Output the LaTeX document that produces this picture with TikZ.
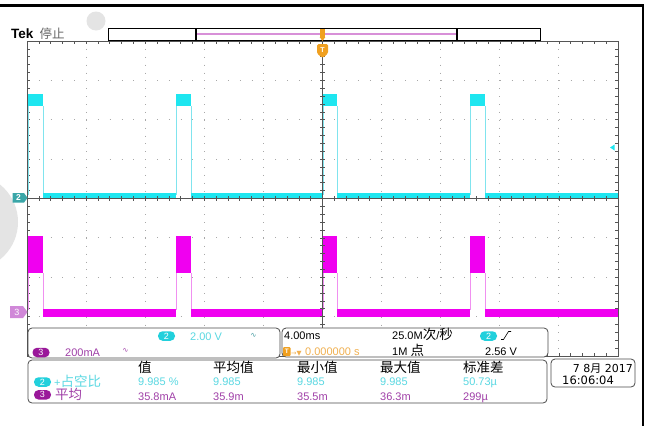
\documentclass[tikz,border=0pt]{standalone}
\usepackage{fontspec}
\usepackage{graphicx}
\setmainfont{Liberation Sans}
\newfontfamily\cjk{Noto Sans CJK SC}
\newfontfamily\djv{DejaVu Sans}
\newcommand{\zhtxt}[1]{{\cjk\fontsize{13.5}{15}\selectfont #1}}
\definecolor{cyantr}{HTML}{1EE6F0}
\definecolor{cyanedge}{HTML}{80E4EE}
\definecolor{magtr}{HTML}{F000F0}
\definecolor{magedge}{HTML}{F090F0}
\definecolor{chtwomk}{HTML}{3AA6A8}
\definecolor{chthreemk}{HTML}{D088D8}
\definecolor{gridc}{HTML}{A8A8A8}
\definecolor{axisc}{HTML}{555555}
\definecolor{txtcyan}{HTML}{5AD8E2}
\definecolor{txtpurp}{HTML}{A040A8}
\definecolor{pilltwoc}{HTML}{22D0DC}
\definecolor{pillthreec}{HTML}{9A189A}
\definecolor{trigor}{HTML}{F0A020}
\definecolor{trigtxt}{HTML}{F0B050}
\definecolor{barmag}{HTML}{D890D8}
\definecolor{wmark}{HTML}{E4E4E4}
\begin{document}
\begin{tikzpicture}[x=1pt,y=-1pt,
  lat/.style={font=\fontsize{11}{13}\selectfont, inner sep=0pt, anchor=base west},
  cj/.style={font=\cjk\fontsize{13.5}{15}\selectfont, inner sep=0pt, anchor=base west},
  pilltwo/.style={fill=pilltwoc, text=white, rounded corners=4.5pt, minimum width=17pt, minimum height=9.5pt, inner sep=0pt, font=\fontsize{9}{9}\selectfont},
  pillthree/.style={pilltwo, fill=pillthreec},
  sbox/.style={draw=black!70, fill=white, rounded corners=4pt, line width=0.8pt},
  gdot/.style={gridc, line width=1pt},
  tick/.style={axisc, line width=0.6pt}
]
\useasboundingbox (0,0) rectangle (648,426);
\fill[white] (0,0) rectangle (648,426);

% faint watermark pieces
\fill[wmark] (96,21) circle[radius=9.5pt];
\begin{scope}
  \clip (0,0) rectangle (27,426);
  \fill[wmark] (-30,222) circle[radius=48pt];
\end{scope}

% frame lines
\draw[black, line width=2.5pt] (0,5.5) -- (644,5.5);
\draw[black, line width=2.2pt] (642.7,4.3) -- (642.7,426);

% graticule dotted lines
\foreach \i in {1,2,3,4,6,7,8,9}{
  \draw[gdot, dash pattern=on 1pt off 6.875pt] ({27+\i*59.1},41) -- ({27+\i*59.1},356);
}
\foreach \k in {1,2,3,5,6,7}{
  \draw[gdot, dash pattern=on 1pt off 10.82pt] (27,{41+\k*39.375}) -- (618,{41+\k*39.375});
}
% edge ticks
\foreach \j in {1,...,49}{
  \draw[tick] ({27+\j*11.82},41) -- ({27+\j*11.82},44);
  \draw[tick] ({27+\j*11.82},353) -- ({27+\j*11.82},356);
}
\foreach \j in {1,...,39}{
  \draw[tick] (27,{41+\j*7.875}) -- (30,{41+\j*7.875});
  \draw[tick] (615,{41+\j*7.875}) -- (618,{41+\j*7.875});
}

% channel 2 trace (cyan)
\foreach \a/\b in {28/43,176/191,323/337,470/485}{
  \fill[cyantr] (\a,94) rectangle (\b,106);
  \draw[cyanedge, line width=0.9pt] (\a,106) -- (\a,195);
  \draw[cyanedge, line width=0.9pt] (\b,106) -- (\b,195);
}
\foreach \a/\b in {43/176,191/323,337/470,485/618}{
  \fill[cyantr] (\a,193) rectangle (\b,197.6);
}
% channel 3 trace (magenta)
\foreach \a/\b in {28/43,176/191,323/337,470/485}{
  \fill[magtr] (\a,236) rectangle (\b,273);
  \draw[magedge, line width=0.9pt] (\a,273) -- (\a,310);
  \draw[magedge, line width=0.9pt] (\b,273) -- (\b,310);
}
\foreach \a/\b in {43/176,191/323,337/470,485/618}{
  \fill[magtr] (\a,309) rectangle (\b,317);
}

% center axes with ticks
\draw[axisc, line width=0.7pt] (322.5,41) -- (322.5,356);
\draw[axisc, line width=0.7pt] (27,198.4) -- (618,198.4);
\foreach \j in {1,...,39}{
  \draw[tick] (320,{41+\j*7.875}) -- (325,{41+\j*7.875});
}
\foreach \j in {1,...,49}{
  \draw[tick] ({27+\j*11.82},196) -- ({27+\j*11.82},200.8);
}
% graticule border
\draw[axisc, line width=0.8pt] (27,41) rectangle (618,356);

% channel markers
\fill[chtwomk] (12.5,193) -- (24,193) -- (27.5,197.8) -- (24,202.6) -- (12.5,202.6) -- cycle;
\node[text=white, font=\bfseries\fontsize{8.5}{8.5}\selectfont, inner sep=0pt] (mktwo) at (18.5,197.8) {2};
\fill[chthreemk] (10,306) -- (23,306) -- (27.5,312) -- (23,318) -- (10,318) -- cycle;
\node[text=white, font=\fontsize{9}{9}\selectfont, inner sep=0pt] (mkthree) at (17,312) {3};
% trigger level marker
\fill[cyantr] (614.5,144.5) -- (610,147.5) -- (614.5,150.5) -- cycle;

% top record bar
\node[font=\bfseries\fontsize{13.5}{15}\selectfont, inner sep=0pt, anchor=base west] (tek) at (11,38.5) {Tek};
\node[font=\cjk\fontsize{12.5}{14}\selectfont, text=black!60, inner sep=0pt, anchor=base west] (stop) at (39.5,38.5) {停止};
\draw[black, line width=0.8pt, fill=white] (108,28) rectangle (540,40);
\draw[barmag, line width=1.6pt] (197,34) -- (456,34);
\draw[black, line width=1.3pt] (196,28) -- (196,40);
\draw[black, line width=1.3pt] (457,28) -- (457,40);
% trigger position markers
\fill[trigor] (319.6,28.5) rectangle (325.4,37) ;
\fill[trigor] (319.6,37) -- (325.4,37) -- (322.5,41) -- cycle;
\fill[trigor, rounded corners=1.5pt] (317,44) -- (328,44) -- (328,53.5) -- (322.5,58) -- (317,53.5) -- cycle;
\node[text=white, font=\bfseries\fontsize{7}{7}\selectfont, inner sep=0pt] (tmark) at (322.5,50) {T};

% status boxes
\draw[sbox] (28,328) rectangle (280,358);
\draw[sbox] (282,328) rectangle (548,357);
\draw[sbox] (28,360) rectangle (547,403);
\draw[sbox] (551,359) rectangle (635,387);

% box A: vertical settings
\node[pilltwo] (pa) at (166.5,336) {2};
\node[lat, text=txtcyan] (vtwo) at (190,340) {2.00 V};
\node[inner sep=0pt, text=txtcyan!70!black, font=\djv\fontsize{7}{7}\selectfont] (bwtwo) at (253.5,335.5) {∿};
\node[pillthree] (pb) at (41,352.5) {3};
\node[lat, text=txtpurp] (vthree) at (65,356) {200mA};
\node[inner sep=0pt, text=txtpurp, font=\djv\fontsize{7}{7}\selectfont] (bwthree) at (125.5,350.5) {∿};

% box B: horizontal / trigger
\node[lat] (hscale) at (284,339) {4.00ms};
\node[lat] (srate) at (392,339) {25.0M\zhtxt{次}/\zhtxt{秒}};
\node[pilltwo] (pc) at (488.5,336) {2};
\draw[black, line width=0.6pt] (501,339.5) -- (503.5,339.5) -- (508.5,331.5) -- (511,331.5);
\fill[trigor, rounded corners=1pt] (283,347) rectangle (290.5,356);
\node[text=white, font=\bfseries\fontsize{6.5}{6.5}\selectfont, inner sep=0pt] (ticon) at (286.75,351.5) {T};
\node[inner sep=0pt, anchor=base west, text=trigtxt, font=\djv\fontsize{6.5}{6.5}\selectfont] (tarrow) at (291,355) {→▼};
\node[lat, text=trigtxt] (tpos) at (305,355.5) {0.000000 s};
\node[lat] (rlen) at (392,355.5) {1M \zhtxt{点}};
\node[lat] (tlev) at (485,355.5) {2.56 V};

% box C: measurements
\node[cj] (h1) at (138,372.5) {值};
\node[cj] (h2) at (213,372.5) {平均值};
\node[cj] (h3) at (297,372.5) {最小值};
\node[cj] (h4) at (380,372.5) {最大值};
\node[cj] (h5) at (463,372.5) {标准差};
\node[pilltwo] (pd) at (42.5,382) {2};
\node[lat, text=txtcyan] (m2name) at (54,386) {+\zhtxt{占空比}};
\node[lat, text=txtcyan] (m2a) at (138,385.5) {9.985 \%};
\node[lat, text=txtcyan] (m2b) at (213,385.5) {9.985};
\node[lat, text=txtcyan] (m2c) at (297,385.5) {9.985};
\node[lat, text=txtcyan] (m2d) at (380,385.5) {9.985};
\node[lat, text=txtcyan] (m2e) at (463,385.5) {50.73µ};
\node[pillthree] (pe) at (42.5,394.8) {3};
\node[cj, text=txtpurp] (m3name) at (55,399.5) {平均};
\node[lat, text=txtpurp] (m3a) at (138,400) {35.8mA};
\node[lat, text=txtpurp] (m3b) at (213,400) {35.9m};
\node[lat, text=txtpurp] (m3c) at (297,400) {35.5m};
\node[lat, text=txtpurp] (m3d) at (380,400) {36.3m};
\node[lat, text=txtpurp] (m3e) at (463,400) {299µ};

% box D: date
\node[inner sep=0pt, anchor=base east, font=\djv\fontsize{11}{13}\selectfont] (date) at (633,372.5) {7 8{\cjk 月} 2017};
\node[inner sep=0pt, anchor=base west, font=\djv\fontsize{11.5}{13}\selectfont] (time) at (562,384) {16:06:04};
\end{tikzpicture}
\end{document}
